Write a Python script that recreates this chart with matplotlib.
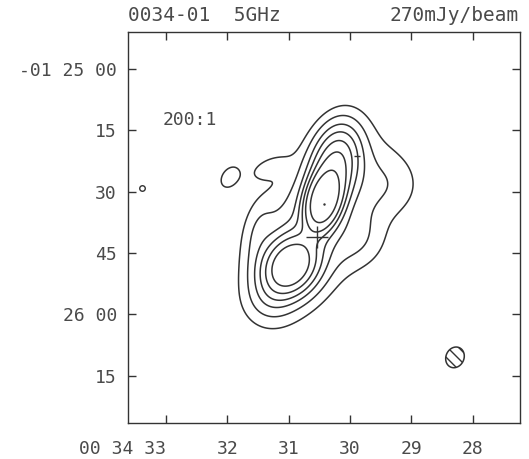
import numpy as np
import matplotlib.pyplot as plt
from matplotlib.patches import Polygon

# Gaussian source components: RA (s), Dec offset below -01 25 00 (arcsec),
# peak fraction, major/minor sigma (arcsec), position angle (deg, N through E)
comp_ra = [30.43, 30.98, 30.23, 30.60, 29.35, 29.84, 31.96, 31.35, 31.50, 31.31]
comp_dec = [32.1, 48.2, 22.8, 38.2, 28.4, 41.8, 26.4, 24.2, 39.4, 56.5]
comp_amp = [1.00, 0.50, 0.32, 0.12, 0.045, 0.04, 0.06, 0.04, 0.04, 0.04]
comp_maj = [4.4, 4.9, 6.0, 15.9, 6.0, 4.9, 2.45, 3.6, 5.5, 3.7]
comp_min = [2.45, 3.9, 3.6, 8.1, 6.0, 4.9, 1.7, 1.8, 2.5, 3.7]
comp_pa = [-15, -35, -12, -28, 0, 0, -35, -66, -10, 0]

levels = [0.035, 0.07, 0.12, 0.18, 0.26, 0.37, 0.6]

ra_ticks = [33, 32, 31, 30, 29, 28]
ra_labels = ["00 34 33", "32", "31", "30", "29", "28"]
dec_ticks = [0, 15, 30, 45, 60, 75]
dec_labels = ["-01 25 00", "15", "30", "45", "26 00", "15"]

centre = (30.54, 41.1)
# restoring beam: RA (s), Dec offset, major, minor (arcsec), PA (deg)
beam = (28.29, 70.5, 5.2, 4.4, -25)

ink = "#333333"
txt = "#4a4a4a"
mono = "DejaVu Sans Mono"


def to_sky(r0, d0, x_east, y_north):
    return r0 + x_east / 15.0, d0 - y_north


# evaluate model brightness on a grid
ra = np.linspace(27.1, 33.8, 500)
dec = np.linspace(-12, 90, 500)
RA, DEC = np.meshgrid(ra, dec)
field = np.zeros_like(RA)
for r0, d0, a, smaj, smin, pa in zip(comp_ra, comp_dec, comp_amp, comp_maj, comp_min, comp_pa):
    dx = (RA - r0) * 15.0
    dy = -(DEC - d0)
    t = np.radians(pa)
    u = dx * np.sin(t) + dy * np.cos(t)
    v = dx * np.cos(t) - dy * np.sin(t)
    field += a * np.exp(-0.5 * (u**2 / smaj**2 + v**2 / smin**2))

fig = plt.figure(figsize=(5.29, 4.59), dpi=100)
ax = fig.add_axes([0.242, 0.078, 0.741, 0.852])

ax.contour(RA, DEC, field, levels=levels, colors=ink, linewidths=1.1)

ax.plot(*centre, marker="+", ms=16, mew=1.0, color=ink)
ax.plot(29.89, 21.3, marker="_", ms=5, mew=1.0, color=ink)
ax.plot(30.43, 32.9, marker=".", ms=1.5, color=ink)
ax.plot(33.39, 29.1, marker="o", ms=4, mfc="white", mec=ink, mew=1.0, clip_on=False)

# beam ellipse outline with hatching
br, bd, bmaj, bmin, bpa = beam
phi = np.linspace(0, 2 * np.pi, 60)
t = np.radians(bpa)
a_ = bmaj / 2 * np.cos(phi)
b_ = bmin / 2 * np.sin(phi)
xe = a_ * np.sin(t) + b_ * np.cos(t)
yn = a_ * np.cos(t) - b_ * np.sin(t)
bx, by = to_sky(br, bd, xe, yn)
ax.add_patch(Polygon(np.column_stack([bx, by]), closed=True, facecolor="none",
                     edgecolor=ink, hatch="\\\\\\", lw=1.1))

ax.text(32.61, 12.5, "200:1", ha="center", va="center", fontsize=13,
        family=mono, color=txt)

ax.set_xlim(33.62, 27.23)
ax.set_ylim(86.6, -9.05)

ax.set_xticks(ra_ticks)
ax.set_xticklabels(ra_labels)
ax.set_yticks(dec_ticks)
ax.set_yticklabels(dec_labels)
ax.get_xticklabels()[0].set_horizontalalignment("right")
ax.tick_params(direction="in", length=6, width=1.0, color=ink, top=True, right=True,
               labelsize=13, labelcolor=txt)
ax.tick_params(axis="x", pad=12)
ax.tick_params(axis="y", pad=8)
for lab in ax.get_xticklabels() + ax.get_yticklabels():
    lab.set_family(mono)
for s in ax.spines.values():
    s.set_color(ink)
    s.set_linewidth(1.0)

fig.text(0.242, 0.945, "0034-01  5GHz", ha="left", va="bottom", fontsize=14,
         family=mono, color=txt)
fig.text(0.98, 0.945, "270mJy/beam", ha="right", va="bottom", fontsize=14,
         family=mono, color=txt)

fig.savefig("out.png", dpi=100)
